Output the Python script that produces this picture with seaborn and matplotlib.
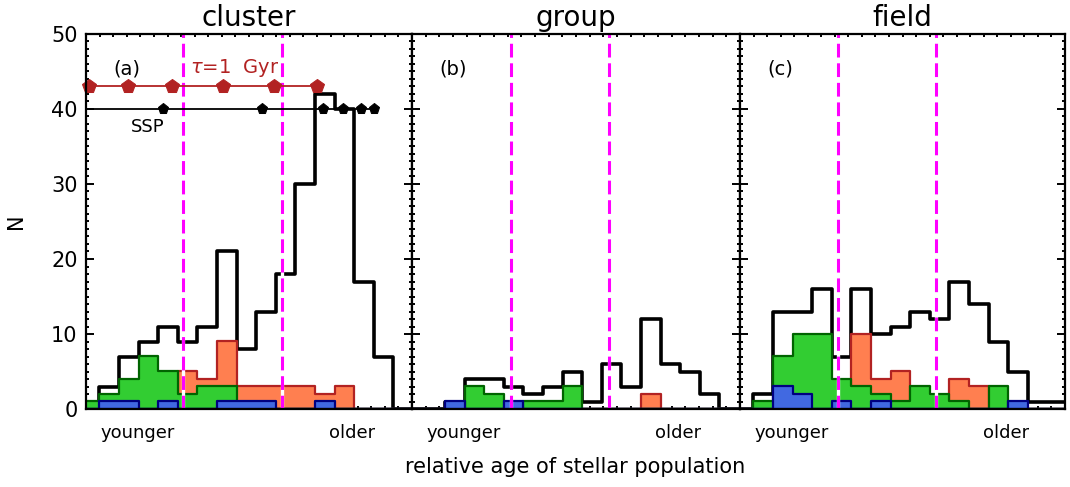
import numpy as np
import pandas as pd
import matplotlib
matplotlib.use("Agg")
import matplotlib.pyplot as plt
import seaborn as sns
from matplotlib.ticker import MultipleLocator, FixedLocator, NullLocator, NullFormatter

# ---------------- data ----------------
# histogram bins (bin index k = -1 .. 15, unit-width bins of relative age)
bin_index = np.arange(-1, 16)
bin_edges = list(range(-1, 17))

panel_titles = ["cluster", "group", "field"]
panel_letters = ["(a)", "(b)", "(c)"]

cluster_all = [1, 3, 7, 9, 11, 9, 11, 21, 8, 13, 18, 30, 42, 40, 17, 7, 0]
cluster_green = [1, 2, 4, 7, 5, 2, 3, 3, 0, 0, 0, 0, 0, 0, 0, 0, 0]
cluster_orange = [0, 0, 0, 0, 0, 5, 4, 9, 3, 3, 3, 3, 2, 3, 0, 0, 0]
cluster_blue = [0, 1, 1, 0, 1, 0, 0, 1, 1, 1, 0, 0, 1, 0, 0, 0, 0]

group_all = [0, 0, 1, 4, 4, 3, 2, 3, 5, 1, 6, 3, 12, 6, 5, 2, 0]
group_green = [0, 0, 0, 3, 2, 0, 1, 1, 3, 0, 0, 0, 0, 0, 0, 0, 0]
group_orange = [0, 0, 0, 0, 0, 0, 0, 0, 0, 0, 0, 0, 2, 0, 0, 0, 0]
group_blue = [0, 0, 1, 0, 0, 1, 0, 0, 0, 0, 0, 0, 0, 0, 0, 0, 0]

field_all = [0, 2, 13, 13, 16, 7, 16, 10, 11, 13, 12, 17, 14, 9, 5, 1, 1]
field_green = [0, 1, 7, 10, 10, 4, 3, 2, 1, 3, 2, 1, 0, 3, 0, 0, 0]
field_orange = [0, 0, 0, 0, 0, 0, 10, 4, 5, 0, 0, 4, 3, 0, 0, 0, 0]
field_blue = [0, 0, 3, 2, 0, 1, 0, 1, 0, 0, 0, 0, 0, 0, 1, 0, 0]

all_counts = [cluster_all, group_all, field_all]
green_counts = [cluster_green, group_green, field_green]
orange_counts = [cluster_orange, group_orange, field_orange]
blue_counts = [cluster_blue, group_blue, field_blue]

# age dividers (magenta dashed lines)
dividers = [[4.28, 9.30], [4.36, 9.39], [4.34, 9.32]]

# model tracks in panel (a)
tau_x = [-0.55, 1.48, 3.69, 6.32, 8.93, 11.12]
tau_y = 43
ssp_x = [3.26, 8.28, 11.43, 12.45, 13.35, 14.0]
ssp_y = 40

# ---------------- style ----------------
sns.set_theme(style="white")
plt.rcParams["font.family"] = ["DejaVu Sans"]
plt.rcParams["text.color"] = "black"
plt.rcParams["axes.labelcolor"] = "black"
plt.rcParams["axes.titlecolor"] = "black"
plt.rcParams["xtick.color"] = "black"
plt.rcParams["ytick.color"] = "black"

W, H = 1070, 487
fig = plt.figure(figsize=(W / 100, H / 100), dpi=100)

lefts = [86, 412, 740]
rights = [412, 740, 1065]
top_px, bot_px = 34, 409
bin_px = 19.6
x0 = -0.68

fill_colors = {"orange": "#FF7F50", "green": "#32CD32", "blue": "#4169E1"}
edge_colors = {"orange": "#B22222", "green": "#006400", "blue": "#000080"}

for i in range(3):
    l, r = lefts[i], rights[i]
    ax = fig.add_axes([l / W, 1 - bot_px / H, (r - l) / W, (bot_px - top_px) / H])
    xmax = x0 + (r - l) / bin_px

    df = pd.DataFrame({
        "k": bin_index + 0.5,
        "all": all_counts[i],
        "orange": orange_counts[i],
        "green": green_counts[i],
        "blue": blue_counts[i],
    })

    sns.histplot(data=df, x="k", weights="all", bins=bin_edges, element="step",
                 fill=False, color="black", linewidth=2.6, ax=ax, zorder=2)
    for j, name in enumerate(["orange", "green", "blue"]):
        sns.histplot(data=df, x="k", weights=name, bins=bin_edges, element="step",
                     fill=True, color=fill_colors[name], edgecolor=edge_colors[name],
                     linewidth=1.6, alpha=1, ax=ax, zorder=3 + j)

    for d in dividers[i]:
        ax.axvline(d, color="white", lw=2.4, zorder=7)
        ax.axvline(d, color="#FF00FF", lw=2.2, dashes=(4.5, 1.9), zorder=8)

    if i == 0:
        ax.plot([x0, max(tau_x)], [tau_y, tau_y], color="#B22222", lw=1.3, zorder=9,
                clip_on=False)
        sns.lineplot(x=tau_x, y=[tau_y] * len(tau_x), color="#B22222", lw=0,
                     marker="p", markersize=10, markeredgecolor="#B22222",
                     ax=ax, zorder=10, clip_on=False)
        ax.plot([x0, max(ssp_x)], [ssp_y, ssp_y], color="black", lw=1.3, zorder=9)
        sns.lineplot(x=ssp_x, y=[ssp_y] * len(ssp_x), color="black", lw=0,
                     marker="p", markersize=8, markeredgecolor="black",
                     ax=ax, zorder=10)
        ax.text(4.63, 45.5, r"$\tau$=1  Gyr", color="#B22222", fontsize=14,
                va="center", ha="left")
        ax.text(1.62, 37.6, "SSP", color="black", fontsize=13, va="center", ha="left")

    ax.text(0.7, 45.3, panel_letters[i], fontsize=14, va="center", ha="left")

    ax.set_xlim(x0, xmax)
    ax.set_ylim(0, 50)
    ax.set_xlabel("")
    ax.set_ylabel("")
    ax.set_title(panel_titles[i], fontsize=20, pad=6)

    ax.yaxis.set_major_locator(MultipleLocator(10))
    ax.yaxis.set_minor_locator(MultipleLocator(1))
    ax.xaxis.set_major_locator(NullLocator())
    ax.xaxis.set_minor_locator(FixedLocator(np.linspace(x0, xmax, 25)[1:-1]))
    ax.tick_params(which="both", direction="in", left=True, right=True, top=True,
                   bottom=True, colors="black", width=1.4)
    ax.tick_params(which="major", length=6)
    ax.tick_params(which="minor", length=2.5)
    ax.tick_params(axis="y", labelsize=15, pad=6)
    if i > 0:
        ax.yaxis.set_major_formatter(NullFormatter())
    for s in ax.spines.values():
        s.set_color("black")
        s.set_linewidth(1.6)
        s.set_zorder(12)

    ax.text(1.97, -0.064, "younger", fontsize=13, ha="center", va="center",
            transform=ax.get_xaxis_transform())
    ax.text(12.9, -0.064, "older", fontsize=13, ha="center", va="center",
            transform=ax.get_xaxis_transform())

    if i == 0:
        ax.set_ylabel("N", fontsize=15, labelpad=18)

fig.text(575 / W, 1 - 467 / H, "relative age of stellar population", fontsize=15,
         ha="center", va="center")

fig.savefig("out.png", dpi=100)
